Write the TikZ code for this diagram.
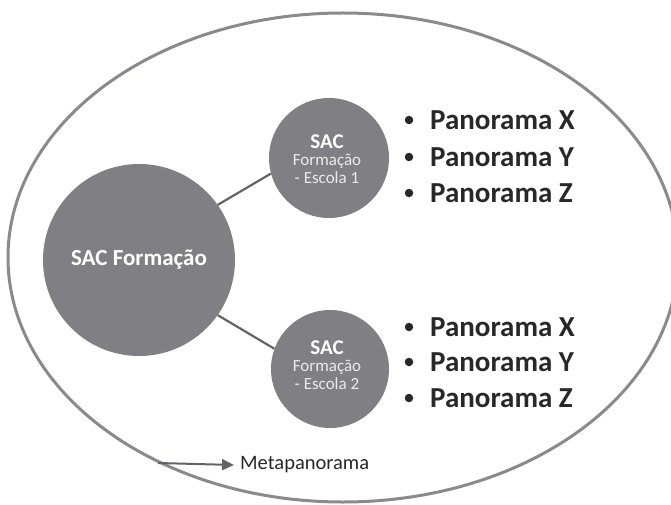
\documentclass[tikz,border=0pt]{standalone}
\usepackage{fontspec}
\setmainfont{Carlito}
\usetikzlibrary{arrows.meta}
\definecolor{discgray}{RGB}{128,128,132}
\definecolor{ringgray}{RGB}{138,138,142}
\definecolor{linkgray}{RGB}{100,100,104}
\definecolor{txtgray}{RGB}{40,40,40}
\definecolor{subwhite}{RGB}{235,235,235}
\begin{document}
\begin{tikzpicture}[x=1pt,y=-1pt,
  disc/.style={circle,fill=discgray,draw=none,inner sep=0pt,align=center,text=white},
  link/.style={draw=linkgray,line width=2.2pt},
  sachead/.style={inner sep=0pt,text=white,font=\fontsize{21}{21}\selectfont\bfseries},
  sacsub/.style={inner sep=0pt,text=subwhite,font=\fontsize{17}{17}\selectfont},
  item/.style={anchor=west,font=\fontsize{29}{29}\selectfont\bfseries,text=txtgray,inner sep=0pt},
  dot/.style={fill=txtgray,circle,inner sep=0pt,minimum size=8.5pt}]
  \useasboundingbox (0,0) rectangle (671,505);
  \begin{scope}
    \clip (0,0) rectangle (671,505);
    \draw[ringgray,line width=3pt] (343,257.5) ellipse [x radius=335,y radius=244.5];
  \end{scope}
  % main circle and the two school circles
  \node[disc,minimum size=192pt,font=\fontsize{23}{23}\selectfont\bfseries] (main) at (139,260) {SAC Formação};
  \node[disc,minimum size=120pt] (s1) at (329,158) {};
  \node[disc,minimum size=118pt] (s2) at (330,369) {};
  \node[sachead] (s1a) at (327,142) {SAC};
  \node[sacsub]  (s1b) at (327,161) {Formação};
  \node[sacsub]  (s1c) at (327,178) {- Escola 1};
  \node[sachead] (s2a) at (327,348) {SAC};
  \node[sacsub]  (s2b) at (327,367) {Formação};
  \node[sacsub]  (s2c) at (327,384) {- Escola 2};
  \draw[link] (main.35) -- (s1.195);
  \draw[link] (main.-35) -- (s2.160);
  % bullet lists
  \foreach \n/\y/\t in {a/120/X,b/157/Y,c/193/Z,d/327/X,e/362/Y,f/398/Z}{
    \node[dot] (d\n) at (409,\y) {};
    \node[item] (p\n) at (430,\y) {Panorama \t};
  }
  % legend arrow
  \coordinate (la) at (158,463);
  \node[anchor=west,inner sep=0pt,text=txtgray,font=\fontsize{20.5}{20.5}\selectfont] (meta) at (240,465) {Metapanorama};
  \draw[linkgray,line width=2pt,-{Triangle[length=12pt,width=11pt]}] (la) -- (meta.west -| 234,463);
\end{tikzpicture}
\end{document}
